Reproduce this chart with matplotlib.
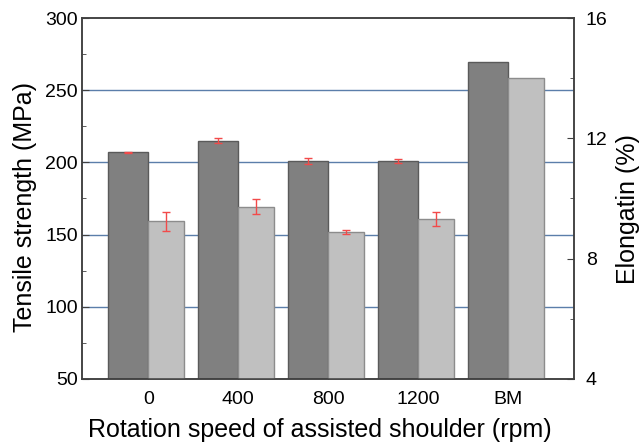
import numpy as np
import matplotlib.pyplot as plt
from matplotlib.ticker import MultipleLocator

plt.rcParams['font.family'] = ['Liberation Sans', 'DejaVu Sans']

# data
groups = ["0", "400", "800", "1200", "BM"]
tensile = [207, 215, 201, 201, 270]
tensile_err = [0.5, 1.8, 2.3, 1.3, 0]
elong = [9.24, 9.73, 8.88, 9.32, 14.0]
elong_err = [0.31, 0.26, 0.07, 0.24, 0]

x = np.arange(len(groups))
dark_w = 0.444
light_w = 0.40
err_col = '#f24a4a'

fig = plt.figure(figsize=(6.43, 4.46), dpi=100)
ax = fig.add_axes([0.127, 0.151, 0.765, 0.808])
ax2 = ax.twinx()

# blue gridlines, sit behind the bars
for yv in [100, 150, 200, 250]:
    ax.axhline(yv, color='#5b7eaa', lw=1.0, zorder=0)

# tensile strength (left axis), bar sits left of the tick
ax.bar(x - dark_w, tensile, width=dark_w, align='edge', color='#808080',
       edgecolor='#5a5a5a', linewidth=1.0, zorder=2)
ax.errorbar(x[:4] - dark_w / 2, tensile[:4], yerr=tensile_err[:4], fmt='none',
            ecolor=err_col, elinewidth=1.0, capsize=3, capthick=1.0, zorder=3)

# elongation (right axis), bar sits right of the tick
ax2.bar(x, elong, width=light_w, align='edge', color='#c0c0c0',
        edgecolor='#8c8c8c', linewidth=1.0, zorder=2)
ax2.errorbar(x[:4] + light_w / 2, elong[:4], yerr=elong_err[:4], fmt='none',
             ecolor=err_col, elinewidth=1.0, capsize=3, capthick=1.0, zorder=3)

ax.set_xlim(-0.74, 4.73)
ax.set_ylim(50, 300)
ax2.set_ylim(4, 16)

ax.set_xticks(x)
ax.set_xticklabels(groups)
ax.yaxis.set_major_locator(MultipleLocator(50))
ax.yaxis.set_minor_locator(MultipleLocator(25))
ax2.yaxis.set_major_locator(MultipleLocator(4))
ax2.yaxis.set_minor_locator(MultipleLocator(2))

ax.tick_params(axis='both', which='both', direction='in', labelsize=14,
               color='#404040')
ax.tick_params(axis='x', length=5, pad=9)
ax.tick_params(axis='y', which='major', length=5, pad=2.8)
ax.tick_params(axis='y', which='minor', length=2.7)
ax2.tick_params(axis='y', which='both', direction='in', labelsize=14,
                color='#404040')
ax2.tick_params(axis='y', which='major', length=5, pad=8.7)
ax2.tick_params(axis='y', which='minor', length=2.7)

for a in (ax, ax2):
    for s in a.spines.values():
        s.set_linewidth(1.1)
        s.set_color('#404040')

ax.set_xlabel("Rotation speed of assisted shoulder (rpm)", fontsize=18)
ax.set_ylabel("Tensile strength (MPa)", fontsize=18)
ax2.set_ylabel("Elongatin (%)", fontsize=18)
ax.xaxis.set_label_coords(0.484, -0.110)
ax.yaxis.set_label_coords(-0.091, 0.475)
ax2.yaxis.set_label_coords(1.087, 0.471)

fig.savefig("out.png", dpi=100)
